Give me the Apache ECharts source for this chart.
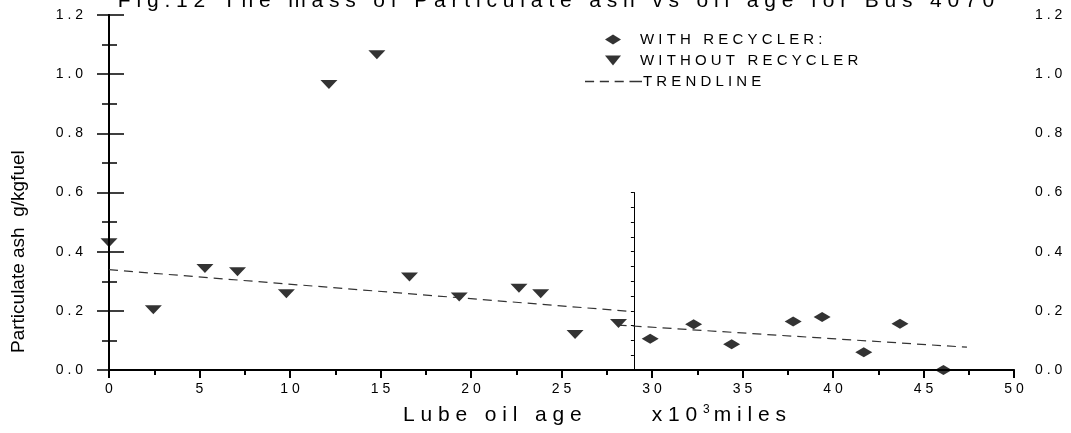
<!DOCTYPE html>
<html>
<head>
<meta charset="utf-8">
<title>Particulate ash vs oil age</title>
<script src="https://cdn.jsdelivr.net/npm/echarts@6/dist/echarts.min.js"></script>
<style>
  html, body { margin: 0; padding: 0; background: #fff; }
  #chart { width: 1071px; height: 433px; }
</style>
</head>
<body>
<div id="chart"></div>
<script>
// with recycler (diamonds)
const withX = [29.9, 32.3, 34.4, 37.8, 39.4, 41.7, 43.7, 46.1];
const withY = [0.106, 0.155, 0.087, 0.164, 0.179, 0.060, 0.156, 0.000];
// without recycler (down triangles)
const withoutX = [0, 2.45, 5.3, 7.1, 9.8, 12.15, 14.8, 16.6, 19.35, 22.65, 23.85, 25.75, 28.15];
const withoutY = [0.43, 0.204, 0.343, 0.332, 0.258, 0.965, 1.066, 0.314, 0.247, 0.276, 0.258, 0.120, 0.157];
// trend lines, before / after the recycler was fitted
const trend1X = [0, 28.8];
const trend1Y = [0.339, 0.198];
const trend2X = [28.1, 47.4];
const trend2Y = [0.152, 0.077];
// separator line
const sepX = 29.0;
const sepTop = 0.6;
// axes
const xMin = 0, xMax = 50, xStep = 5;
const yMin = 0, yMax = 1.2, yStep = 0.2;

const FONT = '"Liberation Sans", Arial, sans-serif';

// old plot software spaced out every letter
const track = (s) => String(s).split('').join(' ');
const pairs = (xs, ys) => xs.map((x, i) => [x, ys[i]]);

const chart = echarts.init(document.getElementById('chart'));

const downTri = 'path://M0,0L20,0L10,10Z';
const dashIcon = 'path://M0,0h8v1h-8zM13,0h8v1h-8zM26,0h8v1h-8zM39,0h11v1h-11z';

const option = {
  animation: false,
  backgroundColor: '#fff',
  textStyle: { fontFamily: FONT },
  grid: [
    { left: 109, right: 57, top: 15, bottom: 63 },
    // half-height grid that only carries the separator axis
    { left: 109, right: 57, top: 192.5, bottom: 63 },
  ],
  legend: [
    {
      orient: 'vertical',
      left: 600,
      top: 27,
      itemWidth: 16,
      itemHeight: 10,
      itemGap: 6,
      selectedMode: false,
      symbolKeepAspect: false,
      formatter: (name) => track(name),
      textStyle: { fontFamily: FONT, fontSize: 15, color: '#000', padding: [0, 0, 0, 14] },
      data: [
        { name: 'WITH RECYCLER:', icon: 'diamond' },
        { name: 'WITHOUT RECYCLER', icon: downTri },
      ],
    },
    {
      left: 580,
      top: 69,
      itemWidth: 57,
      itemHeight: 1.5,
      selectedMode: false,
      symbolKeepAspect: false,
      formatter: (name) => track(name),
      textStyle: { fontFamily: FONT, fontSize: 15, color: '#000', padding: [0, 0, 0, -4] },
      data: [{ name: 'TRENDLINE', icon: dashIcon }],
    },
  ],
  graphic: [
    {
      type: 'text',
      x: 556,
      y: 1,
      style: {
        text: track('Fig.12 The mass of Particulate ash vs oil age for Bus 4070'),
        font: '21px ' + FONT,
        fill: '#000',
        align: 'center',
        verticalAlign: 'middle',
      },
    },
    {
      type: 'text',
      x: 19,
      y: 353,
      rotation: Math.PI / 2,
      style: {
        text: 'Particulate ash  g/kgfuel',
        font: '19px ' + FONT,
        fill: '#000',
        align: 'left',
        verticalAlign: 'middle',
      },
    },
    {
      type: 'text',
      x: 403,
      y: 415,
      style: {
        text: track('Lube oil age') + '            {n|' + track('x10') + ' }{s|3}{n|' + track('miles') + '}',
        font: '21px ' + FONT,
        fill: '#000',
        align: 'left',
        verticalAlign: 'middle',
        rich: {
          n: { fontSize: 21, fontFamily: FONT, fill: '#000' },
          s: { fontSize: 12, fontFamily: FONT, fill: '#000', verticalAlign: 'top', padding: [0, 4, 10, 0] },
        },
      },
    },
  ],
  xAxis: [
    {
      gridIndex: 0,
      type: 'value',
      position: 'bottom',
      min: xMin,
      max: xMax,
      interval: xStep,
      axisLine: { lineStyle: { color: '#000', width: 2 } },
      axisTick: { inside: false, length: 8, lineStyle: { color: '#000', width: 2 } },
      minorTick: { show: true, splitNumber: 2, length: 5, lineStyle: { color: '#000', width: 2 } },
      axisLabel: { margin: 12, color: '#000', fontSize: 14, fontFamily: FONT, formatter: (v) => track(v) },
      splitLine: { show: false },
    },
    {
      gridIndex: 0,
      type: 'value',
      position: 'top',
      min: xMin,
      max: xMax,
      interval: xStep / 2,
      axisLine: { lineStyle: { color: '#000', width: 1.5 } },
      axisTick: { inside: true, length: 3, lineStyle: { color: '#000', width: 1.5 } },
      axisLabel: { show: false },
      splitLine: { show: false },
    },
    {
      gridIndex: 1,
      type: 'value',
      min: xMin,
      max: xMax,
      show: false,
    },
  ],
  yAxis: [
    {
      gridIndex: 0,
      type: 'value',
      position: 'left',
      min: yMin,
      max: yMax,
      interval: yStep,
      axisLine: { show: true, lineStyle: { color: '#000', width: 2 } },
      axisTick: { show: true, inside: false, length: 12, lineStyle: { color: '#000', width: 1.5 } },
      minorTick: { show: true, splitNumber: 2, length: 7, lineStyle: { color: '#000', width: 1.5 } },
      axisLabel: { margin: 26, color: '#000', fontSize: 14, fontFamily: FONT, formatter: (v) => track(v.toFixed(1)) },
      splitLine: { show: false },
    },
    {
      gridIndex: 0,
      type: 'value',
      position: 'right',
      min: yMin,
      max: yMax,
      interval: yStep,
      axisLine: { show: true, lineStyle: { color: '#000', width: 2 } },
      axisTick: { show: true, inside: false, length: 15, lineStyle: { color: '#000', width: 1.5 } },
      minorTick: { show: true, splitNumber: 2, length: 8, lineStyle: { color: '#000', width: 1.5 } },
      axisLabel: { margin: 21, color: '#000', fontSize: 14, fontFamily: FONT, formatter: (v) => track(v.toFixed(1)) },
      splitLine: { show: false },
    },
    {
      gridIndex: 1,
      type: 'value',
      position: 'left',
      min: 0,
      max: sepTop,
      interval: 0.05,
      offset: 0,
      axisLine: { show: true, lineStyle: { color: '#000', width: 1 } },
      axisTick: { show: true, inside: false, length: 3, lineStyle: { color: '#000', width: 1 } },
      axisLabel: { show: false },
      splitLine: { show: false },
    },
  ],
  series: [
    {
      name: 'TRENDLINE',
      type: 'line',
      xAxisIndex: 0,
      yAxisIndex: 0,
      showSymbol: false,
      silent: true,
      itemStyle: { color: '#333' },
      lineStyle: { color: '#333', width: 1.2, type: [9, 6] },
      data: pairs(trend1X, trend1Y),
    },
    {
      name: 'TRENDLINE',
      type: 'line',
      xAxisIndex: 0,
      yAxisIndex: 0,
      showSymbol: false,
      silent: true,
      itemStyle: { color: '#333' },
      lineStyle: { color: '#333', width: 1.2, type: [9, 6] },
      data: pairs(trend2X, trend2Y),
    },
    {
      name: 'WITH RECYCLER:',
      type: 'scatter',
      xAxisIndex: 0,
      yAxisIndex: 0,
      symbol: 'diamond',
      symbolSize: [17, 10],
      itemStyle: { color: '#000' },
      data: pairs(withX, withY),
    },
    {
      name: 'WITHOUT RECYCLER',
      type: 'scatter',
      xAxisIndex: 0,
      yAxisIndex: 0,
      symbol: downTri,
      symbolSize: [17, 9],
      itemStyle: { color: '#000' },
      data: pairs(withoutX, withoutY),
    },
  ],
};

chart.setOption(option);

// put the separator axis on x = sepX, using the x scale of the main grid
const sepPx = chart.convertToPixel({ xAxisIndex: 0 }, sepX);
chart.setOption({ yAxis: [{}, {}, { offset: 109 - sepPx }] });
</script>
</body>
</html>
